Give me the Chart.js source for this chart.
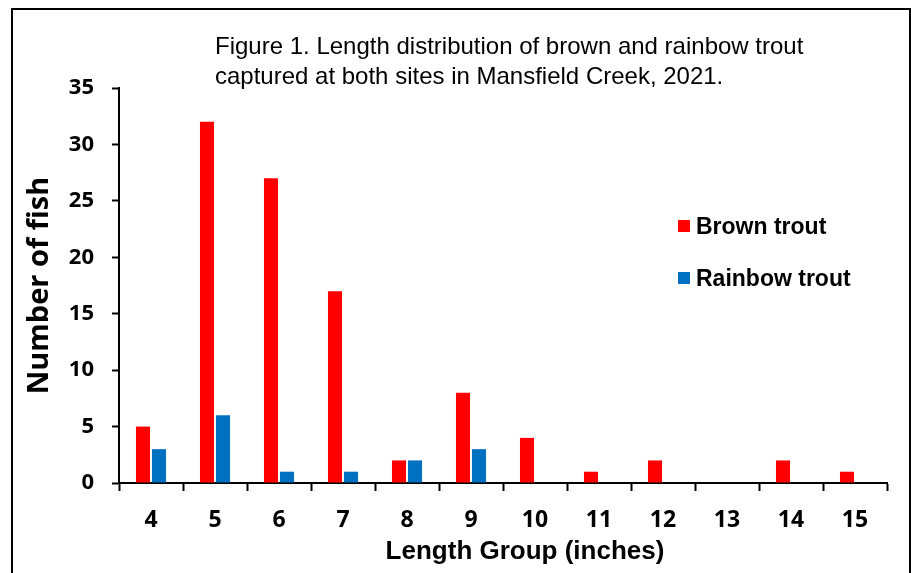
<!DOCTYPE html>
<html>
<head>
<meta charset="utf-8">
<script src="https://cdn.jsdelivr.net/npm/chart.js"></script>
<style>
  body { margin: 0; background: #fff; }
  #wrap { position: relative; width: 911px; height: 573px; overflow: hidden; }
  #frame { position: absolute; left: 11px; top: 8px; width: 896px; height: 600px; border: 2px solid #000; }
  canvas { position: absolute; left: 0; top: 0; }
</style>
</head>
<body>
<div id="wrap">
  <div id="frame"></div>
  <canvas id="chart" width="911" height="573"></canvas>
</div>
<script>
// length groups (inches) and fish counts per group
const lengthGroups = ['4', '5', '6', '7', '8', '9', '10', '11', '12', '13', '14', '15'];
const brownTrout   = [5, 32, 27, 17, 2, 8, 4, 1, 2, 0, 2, 1];
const rainbowTrout = [3, 6, 1, 1, 2, 3, 0, 0, 0, 0, 0, 0];
const titleLines = ['Figure 1. Length distribution of brown and rainbow trout',
                    'captured at both sites in Mansfield Creek, 2021.'];
const xTitle = 'Length Group (inches)';

// title, x axis title and in-plot legend, placed like the original figure
const annotations = {
  id: 'annotations',
  afterDraw(chart) {
    const ctx = chart.ctx;
    ctx.save();
    ctx.fillStyle = '#000';
    ctx.textBaseline = 'alphabetic';
    ctx.textAlign = 'left';
    ctx.font = '24px "Liberation Sans", Arial, sans-serif';
    ctx.fillText(titleLines[0], 215, 54);
    ctx.fillText(titleLines[1], 215, 84);

    ctx.textAlign = 'center';
    ctx.font = 'bold 26px "Liberation Sans", Arial, sans-serif';
    ctx.fillText(xTitle, 525, 559);

    ctx.textAlign = 'left';
    const rows = [234, 286];
    ctx.font = 'bold 23px "Liberation Sans", Arial, sans-serif';
    chart.data.datasets.forEach((ds, i) => {
      ctx.fillStyle = ds.backgroundColor;
      ctx.fillRect(678, rows[i] - 14, 12, 12);
      ctx.fillStyle = '#000';
      ctx.fillText(ds.label, 696, rows[i]);
    });
    ctx.restore();
  }
};

new Chart(document.getElementById('chart'), {
  type: 'bar',
  data: {
    labels: lengthGroups,
    datasets: [
      { label: 'Brown trout', data: brownTrout, backgroundColor: '#FF0000' },
      { label: 'Rainbow trout', data: rainbowTrout, backgroundColor: '#0070C0' }
    ]
  },
  options: {
    responsive: false,
    animation: false,
    layout: { padding: { left: 0, right: 24, top: 88, bottom: 0 } },
    datasets: { bar: { categoryPercentage: 0.5, barPercentage: 0.88 } },
    plugins: { legend: { display: false }, title: { display: false }, tooltip: { enabled: false } },
    scales: {
      x: {
        afterFit(s) { s.height = 90; },
        grid: { display: true, drawOnChartArea: false, offset: true, tickLength: 8, color: '#000', tickWidth: 2 },
        border: { color: '#000', width: 2 },
        ticks: { color: '#000', padding: 16, font: { family: '"Open Sans", sans-serif', size: 23, weight: 'bold' } }
      },
      y: {
        min: 0, max: 35,
        afterFit(s) { s.width = 119; },
        grid: { display: true, drawOnChartArea: false, tickLength: 7, color: '#000', tickWidth: 2 },
        border: { color: '#000', width: 2 },
        ticks: { stepSize: 5, color: '#000', padding: 18, font: { family: '"Open Sans", sans-serif', size: 22, weight: 'bold' } },
        title: {
          display: true, text: 'Number of fish', color: '#000', padding: { top: 22, bottom: 0 },
          font: { family: '"Open Sans", sans-serif', size: 29, weight: 'bold' }
        }
      }
    }
  },
  plugins: [annotations]
});
</script>
</body>
</html>
